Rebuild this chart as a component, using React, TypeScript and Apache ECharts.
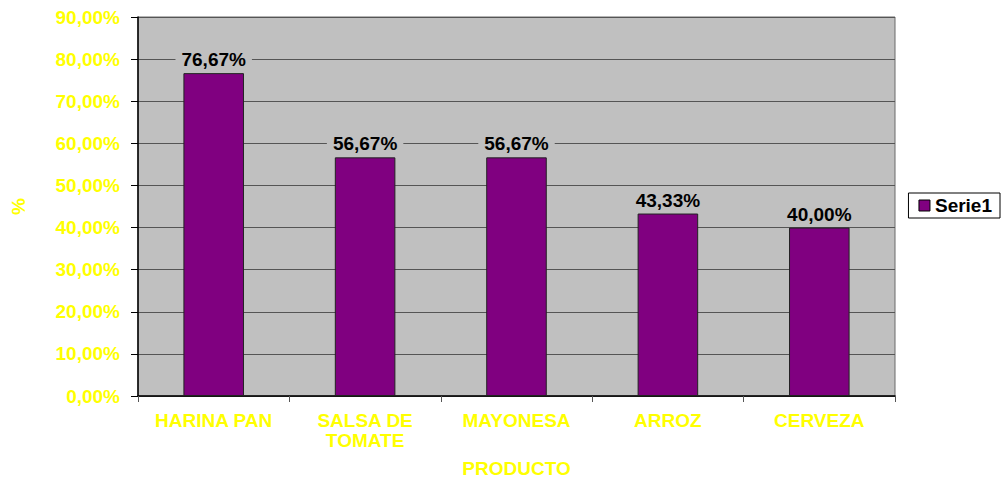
import React, { useEffect, useRef } from "react";
import * as echarts from "echarts";

const categories = ["HARINA PAN", "SALSA DE\nTOMATE", "MAYONESA", "ARROZ", "CERVEZA"];
const values = [76.67, 56.67, 56.67, 43.33, 40.0];
const seriesName = "Serie1";

const fmt = (v: number) => v.toFixed(2).replace(".", ",") + "%";

export default function App() {
  const ref = useRef<HTMLDivElement>(null);
  useEffect(() => {
    const chart = echarts.init(ref.current!, undefined, { renderer: "svg" });
    const font = "'Liberation Sans', Arial, sans-serif";
    chart.setOption({
      animation: false,
      backgroundColor: "#ffffff",
      textStyle: { fontFamily: font },
      grid: {
        left: 138,
        right: 110,
        top: 17,
        bottom: 83,
        outerBoundsMode: "none",
        containLabel: false,
        show: true,
        backgroundColor: "#c0c0c0",
        borderColor: "#6b6b6b",
        borderWidth: 1,
      },
      legend: {
        right: 5,
        top: 193,
        orient: "vertical",
        data: [seriesName],
        icon: "rect",
        itemWidth: 11,
        itemHeight: 11,
        itemGap: 4,
        itemStyle: { borderColor: "#000", borderWidth: 1 },
        borderColor: "#000",
        borderWidth: 1,
        padding: [3, 8, 3, 10],
        textStyle: { fontFamily: font, fontWeight: "bold", fontSize: 19, color: "#000" },
      },
      xAxis: {
        type: "category",
        data: categories,
        name: "PRODUCTO",
        nameLocation: "middle",
        nameGap: 64,
        nameTextStyle: { color: "#ffff00", fontWeight: "bold", fontSize: 19, lineHeight: 16, fontFamily: font },
        axisLine: { show: true, lineStyle: { color: "#000", width: 1.5 } },
        axisTick: { show: true, alignWithLabel: false, length: 6, lineStyle: { color: "#555" } },
        axisLabel: {
          color: "#ffff00",
          fontWeight: "bold",
          fontSize: 19,
          fontFamily: font,
          margin: 14,
          lineHeight: 20,
          interval: 0,
        },
      },
      yAxis: {
        type: "value",
        min: 0,
        max: 90,
        interval: 10,
        name: "%",
        nameLocation: "middle",
        nameGap: 110,
        nameRotate: 90,
        nameTextStyle: { color: "#ffff00", fontWeight: "bold", fontSize: 19, fontFamily: font },
        axisLine: { show: true, lineStyle: { color: "#000", width: 1.5 } },
        axisTick: { show: true, length: 7, lineStyle: { color: "#000" } },
        axisLabel: {
          color: "#ffff00",
          fontWeight: "bold",
          fontSize: 19,
          fontFamily: font,
          margin: 18,
          formatter: (v: number) => fmt(v),
        },
        splitLine: { show: true, lineStyle: { color: "#555555", width: 1 } },
      },
      series: [
        {
          name: seriesName,
          type: "bar",
          data: values,
          barWidth: "40%",
          itemStyle: { color: "#800080", borderColor: "#222", borderWidth: 1 },
          label: {
            show: true,
            position: "top",
            distance: 3,
            formatter: (p: any) => fmt(p.value),
            color: "#000",
            fontWeight: "bold",
            fontSize: 19,
            fontFamily: font,
            backgroundColor: "#c0c0c0",
            padding: [1, 6],
          },
        },
      ],
    });
    return () => chart.dispose();
  }, []);
  return <div ref={ref} style={{ width: 1005, height: 479, position: "absolute", left: 0, top: 0 }} />;
}
